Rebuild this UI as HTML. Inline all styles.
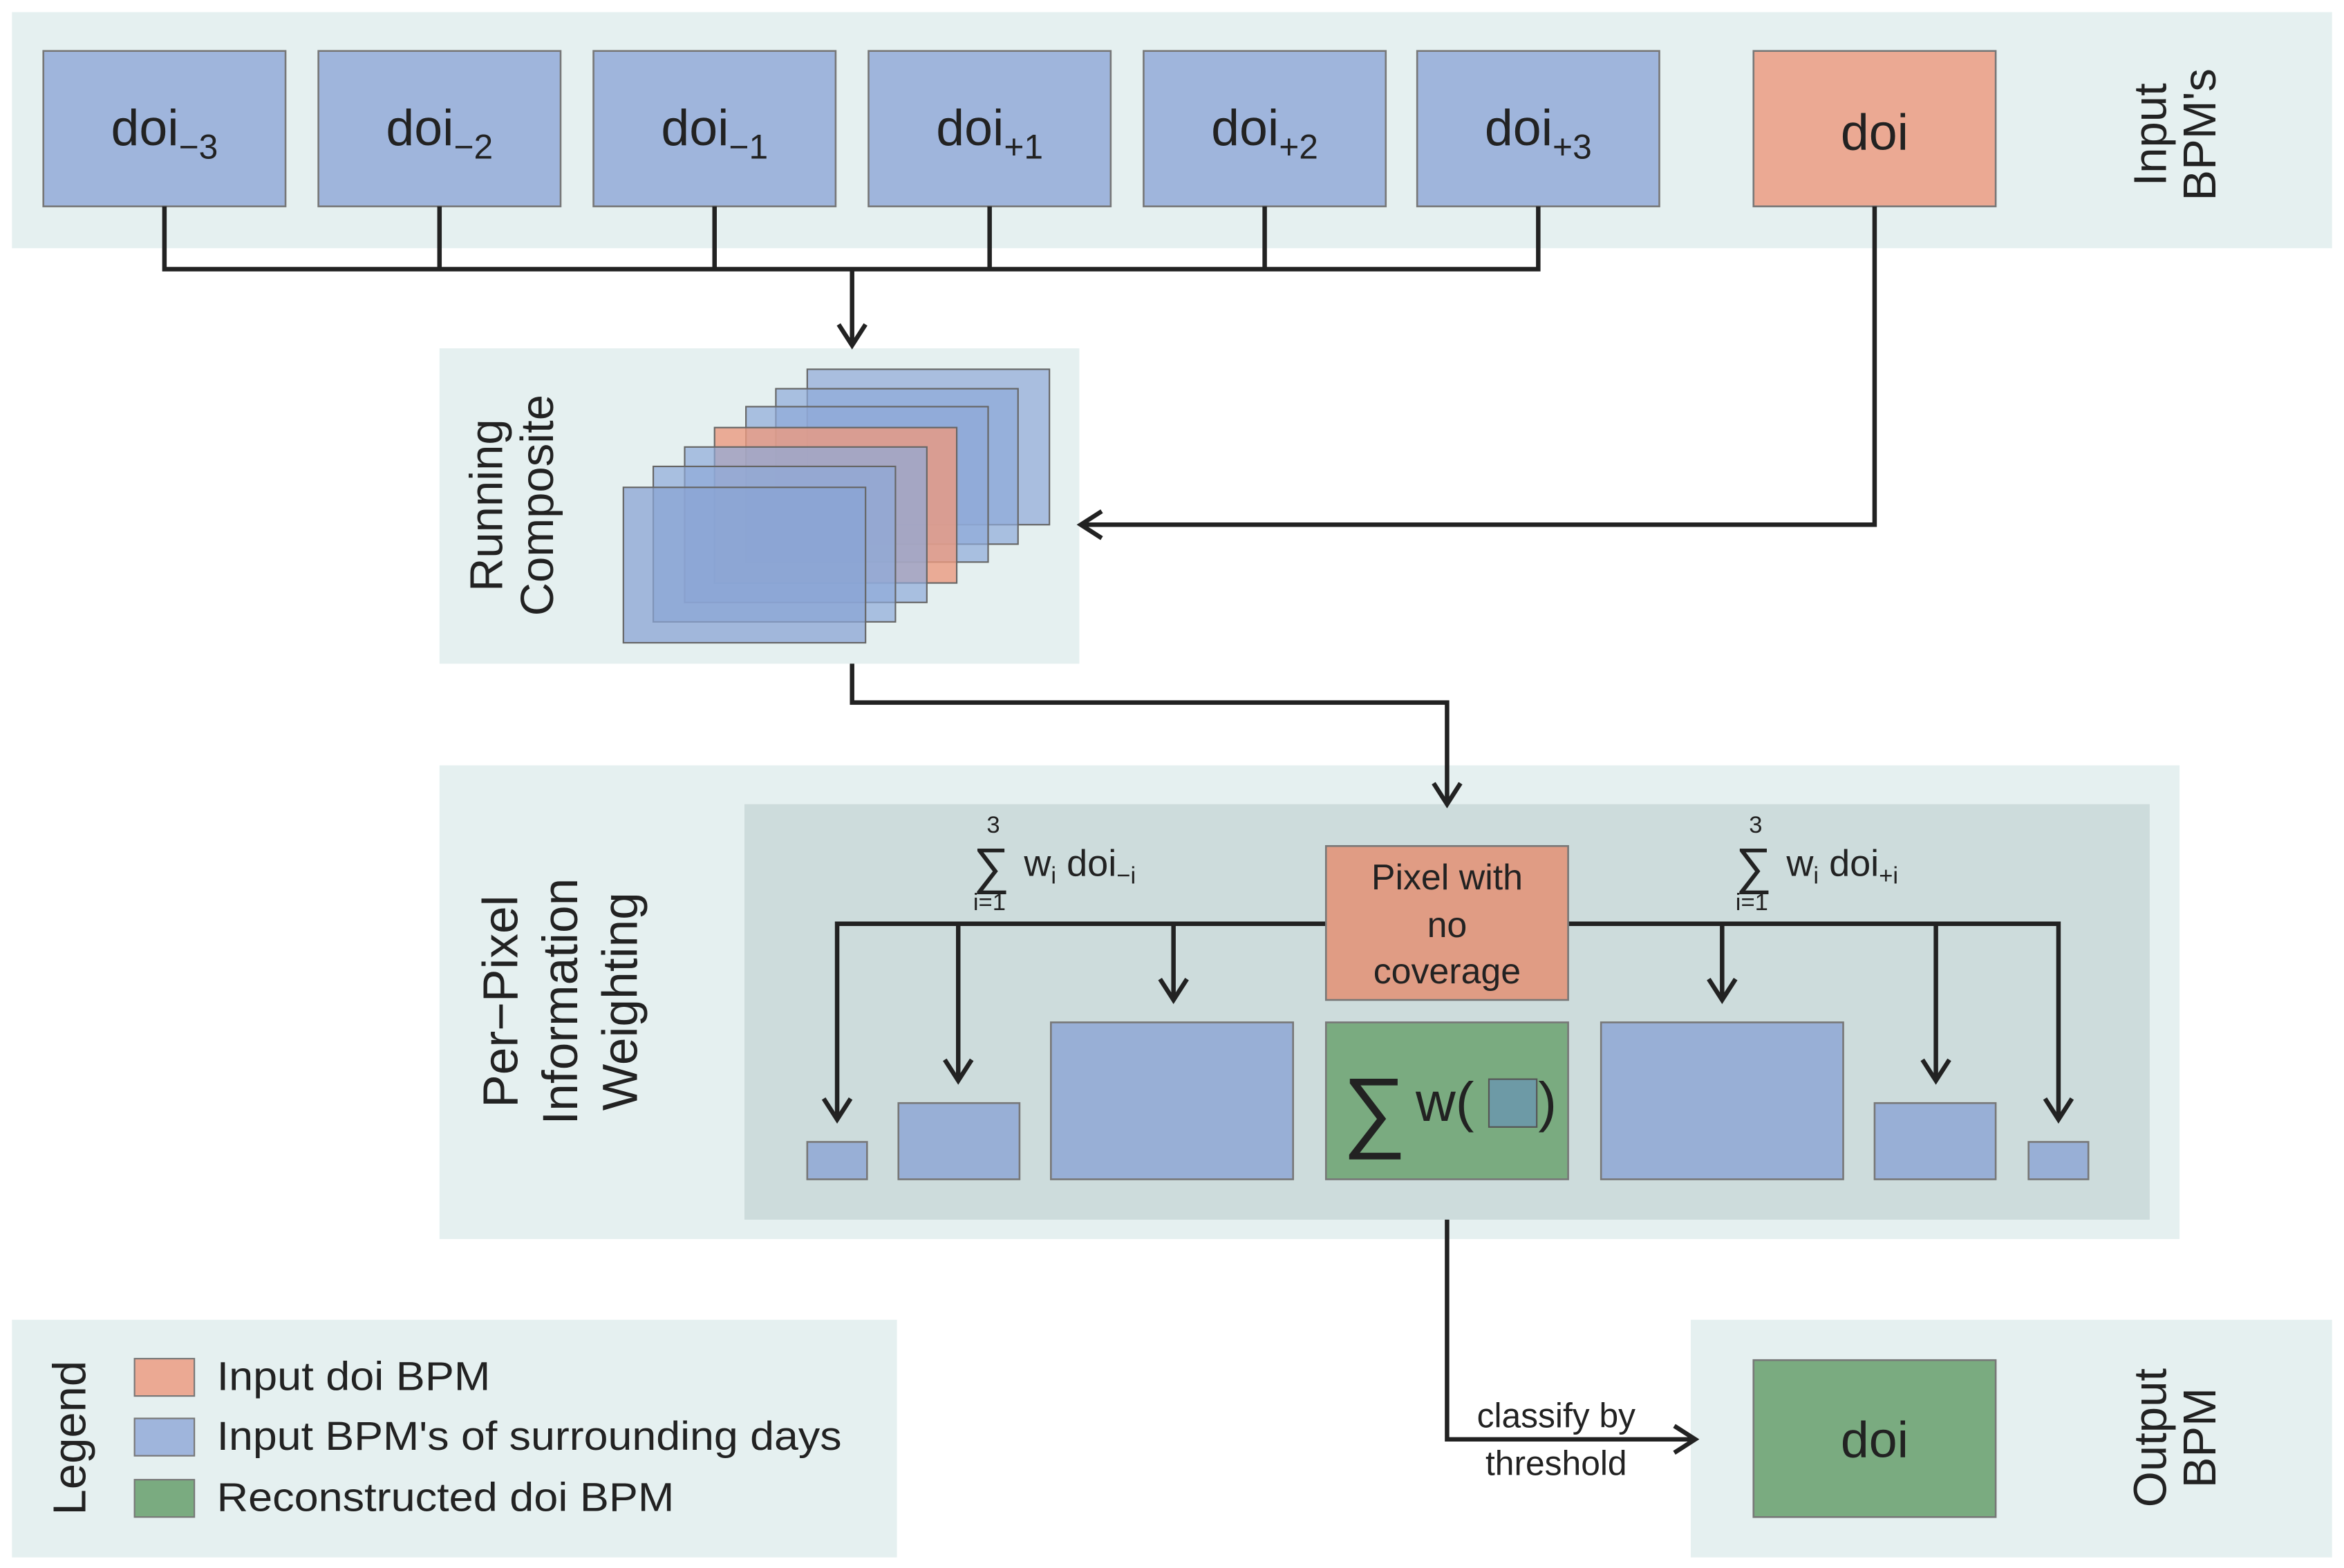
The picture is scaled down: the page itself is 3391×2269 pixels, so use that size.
<!DOCTYPE html>
<html><head><meta charset="utf-8"><style>
html,body{margin:0;padding:0;background:#fff}
svg{display:block}
text{font-family:"Liberation Sans",Arial,sans-serif;fill:#222}
</style></head><body>
<svg width="3391" height="2269" viewBox="0 0 1568 1049" xmlns="http://www.w3.org/2000/svg">
<rect width="1568" height="1049" fill="#fff"/>
<!-- panels -->
<rect x="8" y="8" width="1552" height="158" fill="#e5f0f0"/>
<rect x="294" y="233" width="428" height="211" fill="#e5f0f0"/>
<rect x="294" y="512" width="1164" height="317" fill="#e5f0f0"/>
<rect x="498" y="538" width="940" height="278" fill="#cddcdc"/>
<rect x="8" y="883" width="592" height="159" fill="#e5f0f0"/>
<rect x="1131" y="883" width="429" height="159" fill="#e5f0f0"/>

<!-- input boxes -->
<g fill="#9fb5dc" stroke="#777" stroke-width="1.2">
<rect x="29" y="34" width="162" height="104"/>
<rect x="213" y="34" width="162" height="104"/>
<rect x="397" y="34" width="162" height="104"/>
<rect x="581" y="34" width="162" height="104"/>
<rect x="765" y="34" width="162" height="104"/>
<rect x="948" y="34" width="162" height="104"/>
</g>
<rect x="1173" y="34" width="162" height="104" fill="#eba993" stroke="#777" stroke-width="1.2"/>
<g font-size="34" text-anchor="middle">
<text x="110" y="97">doi<tspan font-size="23" dy="9">−3</tspan></text>
<text x="294" y="97">doi<tspan font-size="23" dy="9">−2</tspan></text>
<text x="478" y="97">doi<tspan font-size="23" dy="9">−1</tspan></text>
<text x="662" y="97">doi<tspan font-size="23" dy="9">+1</tspan></text>
<text x="846" y="97">doi<tspan font-size="23" dy="9">+2</tspan></text>
<text x="1029" y="97">doi<tspan font-size="23" dy="9">+3</tspan></text>
<text x="1254" y="100">doi</text>
</g>
<g font-size="31" text-anchor="middle">
<text transform="translate(1449,90) rotate(-90)"><tspan x="0" y="0">Input</tspan><tspan x="0" y="33">BPM's</tspan></text>
<text transform="translate(336,338) rotate(-90)"><tspan x="0" y="0">Running</tspan><tspan x="0" y="34">Composite</tspan></text>
<text transform="translate(346,670) rotate(-90)" font-size="33"><tspan x="0" y="0">Per−Pixel</tspan><tspan x="0" y="40">Information</tspan><tspan x="0" y="80">Weighting</tspan></text>
<text transform="translate(1449,962) rotate(-90)"><tspan x="0" y="0">Output</tspan><tspan x="0" y="33">BPM</tspan></text>
<text transform="translate(57,962) rotate(-90)">Legend</text>
</g>

<!-- connectors -->
<g stroke="#222" stroke-width="3" fill="none">
<path d="M110 138V180M294 138V180M478 138V180M662 138V180M846 138V180M1029 138V180M108.5 180H1030.5"/>
<path d="M570 180V230"/>
<path d="M1254 138V351H724"/>
<path d="M570 444V470H968V538"/>
<path d="M887 618H560V748M641 618V722M785 618V668M1049 618H1377V748M1152 618V668M1295 618V722"/>
<path d="M968 816V963H1133"/>
</g>
<g fill="none" stroke="#222" stroke-width="3">
<path d="M561 217L570 231L579 217"/>
<path d="M737 342L723 351L737 360"/>
<path d="M959 524L968 538L977 524"/>
<path d="M551 735L560 749L569 735"/>
<path d="M632 709L641 723L650 709"/>
<path d="M776 655L785 669L794 655"/>
<path d="M1143 655L1152 669L1161 655"/>
<path d="M1286 709L1295 723L1304 709"/>
<path d="M1368 735L1377 749L1386 735"/>
<path d="M1120 954L1134 963L1120 972"/>
</g>

<!-- stacked composite -->
<g stroke="#666" stroke-width="1">
<rect x="540" y="247" width="162" height="104" fill="#9fb5dc" fill-opacity="0.85"/>
<rect x="519" y="260" width="162" height="104" fill="#8fa9d8" fill-opacity="0.7"/>
<rect x="499" y="272" width="162" height="104" fill="#8fa9d8" fill-opacity="0.7"/>
<rect x="478" y="286" width="162" height="104" fill="#eb9a80" fill-opacity="0.8"/>
<rect x="458" y="299" width="162" height="104" fill="#8fa9d8" fill-opacity="0.7"/>
<rect x="437" y="312" width="162" height="104" fill="#8fa9d8" fill-opacity="0.7"/>
<rect x="417" y="326" width="162" height="104" fill="#8aa4d4" fill-opacity="0.75"/>
</g>

<!-- weighting -->
<rect x="887" y="566" width="162" height="103" fill="#e09c84" stroke="#777" stroke-width="1.2"/>
<g font-size="24" text-anchor="middle">
<text x="968" y="595">Pixel with</text>
<text x="968" y="627">no</text>
<text x="968" y="658">coverage</text>
</g>
<g fill="#98afd6" stroke="#777" stroke-width="1.2">
<rect x="540" y="764" width="40" height="25"/>
<rect x="601" y="738" width="81" height="51"/>
<rect x="703" y="684" width="162" height="105"/>
<rect x="1071" y="684" width="162" height="105"/>
<rect x="1254" y="738" width="81" height="51"/>
<rect x="1357" y="764" width="40" height="25"/>
</g>
<rect x="887" y="684" width="162" height="105" fill="#7aab80" stroke="#777" stroke-width="1.2"/>
<text x="898" y="763" font-size="60">∑</text>
<text x="947" y="750" font-size="37">w(</text>
<rect x="996" y="722" width="32" height="32" fill="#6d9aa6" stroke="#555" stroke-width="1"/>
<text x="1029" y="750" font-size="37">)</text>

<g font-size="25">
<text x="651" y="591" font-size="34">∑</text>
<text x="660" y="557" font-size="16">3</text>
<text x="651" y="609" font-size="16">i=1</text>
<text x="685" y="586">w<tspan font-size="16" dy="5">i</tspan><tspan dy="-5"> doi</tspan><tspan font-size="16" dy="5">−i</tspan></text>
<text x="1161" y="591" font-size="34">∑</text>
<text x="1170" y="557" font-size="16">3</text>
<text x="1161" y="609" font-size="16">i=1</text>
<text x="1195" y="586">w<tspan font-size="16" dy="5">i</tspan><tspan dy="-5"> doi</tspan><tspan font-size="16" dy="5">+i</tspan></text>
</g>

<g font-size="23" text-anchor="middle">
<text x="1041" y="955">classify by</text>
<text x="1041" y="987">threshold</text>
</g>

<!-- output -->
<rect x="1173" y="910" width="162" height="105" fill="#7aab80" stroke="#777" stroke-width="1.2"/>
<text x="1254" y="975" font-size="34" text-anchor="middle">doi</text>

<!-- legend -->
<rect x="90" y="909" width="40" height="25" fill="#eba993" stroke="#777"/>
<rect x="90" y="949" width="40" height="25" fill="#9fb5dc" stroke="#777"/>
<rect x="90" y="990" width="40" height="25" fill="#7aab80" stroke="#777"/>
<g font-size="27">
<text x="145" y="930" textLength="183" lengthAdjust="spacingAndGlyphs">Input doi BPM</text>
<text x="145" y="970" textLength="418" lengthAdjust="spacingAndGlyphs">Input BPM's of surrounding days</text>
<text x="145" y="1011" textLength="306" lengthAdjust="spacingAndGlyphs">Reconstructed doi BPM</text>
</g>
</svg>
</body></html>
